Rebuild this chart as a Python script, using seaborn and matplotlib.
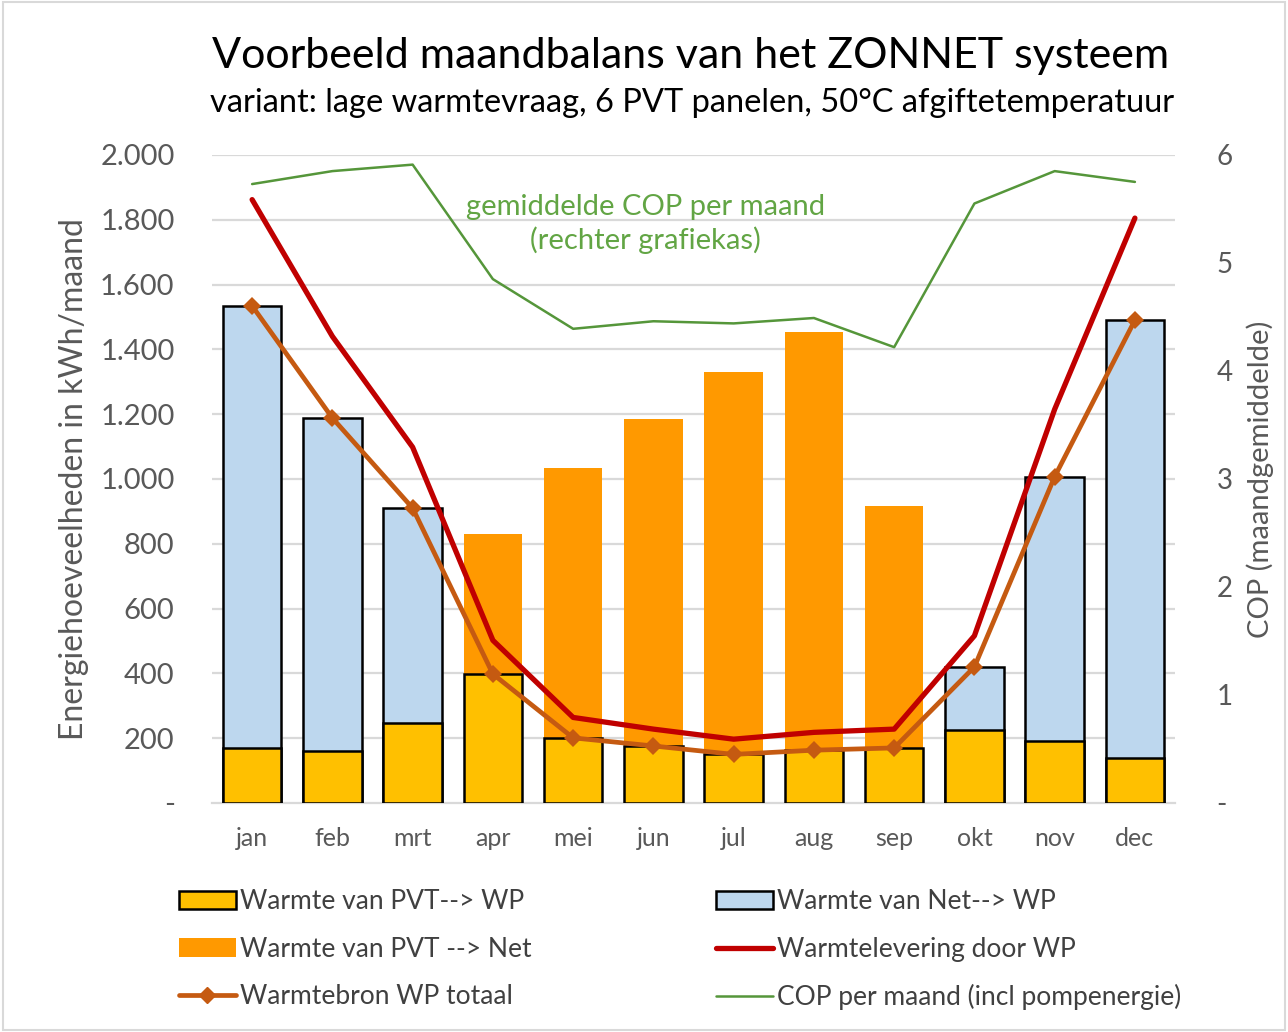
import numpy as np
import matplotlib
matplotlib.use("Agg")
import matplotlib.pyplot as plt
import seaborn as sns
from matplotlib.patches import Patch, Rectangle
from matplotlib.lines import Line2D
from matplotlib.ticker import FuncFormatter

sns.set_style("white")
plt.rcParams['font.family'] = ['Lato', 'DejaVu Sans']

# ------------------------------
# Data
# ------------------------------
maanden = ['jan', 'feb', 'mrt', 'apr', 'mei', 'jun', 'jul', 'aug', 'sep', 'okt', 'nov', 'dec']

# kWh/maand
pvt_naar_wp = [170, 162, 248, 398, 201, 176, 150, 163, 170, 224, 190, 140]
net_naar_wp = [1364, 1026, 662, 0, 0, 0, 0, 0, 0, 196, 817, 1350]
pvt_naar_net = [0, 0, 0, 431, 834, 1010, 1180, 1290, 748, 0, 0, 0]
warmtelevering_wp = [1862, 1440, 1098, 502, 264, 228, 197, 218, 228, 516, 1215, 1805]

# COP (rechter as)
cop = [5.73, 5.85, 5.91, 4.85, 4.39, 4.46, 4.44, 4.49, 4.22, 5.55, 5.85, 5.75]

# Kleuren
geel = '#FFC000'
blauw = '#BDD7EE'
oranje = '#FF9900'
rood = '#C00000'
bruin = '#C55A11'
groen = '#55963A'
grijs = '#595959'

# Cumulatieve hoogtes voor de gestapelde staven
pvt = np.array(pvt_naar_wp)
hoog_blauw = pvt + np.array(net_naar_wp)
hoog_oranje = pvt + np.array(pvt_naar_net)
warmtebron_totaal = hoog_blauw
x = np.arange(len(maanden))

# ------------------------------
# Figuur
# ------------------------------
fig = plt.figure(figsize=(12.88, 10.32), dpi=100)
ax = fig.add_axes([0.1646, 0.2219, 0.7477, 0.628])

for y in np.arange(200, 2001, 200):
    ax.axhline(y, color='#D9D9D9', lw=1.6, zorder=0)

sns.barplot(x=maanden, y=hoog_oranje, color=oranje, width=0.73, saturation=1,
            edgecolor='none', linewidth=0, ax=ax, zorder=2)
sns.barplot(x=maanden, y=hoog_blauw, color=blauw, width=0.73, saturation=1,
            edgecolor='black', linewidth=1.8, ax=ax, zorder=3)
sns.barplot(x=maanden, y=pvt_naar_wp, color=geel, width=0.73, saturation=1,
            edgecolor='black', linewidth=1.8, ax=ax, zorder=4)

# maanden zonder blauwe staaf: die staaf verbergen
for i, p in enumerate(ax.patches[12:24]):
    if net_naar_wp[i] == 0:
        p.set_visible(False)

sns.lineplot(x=x, y=warmtelevering_wp, color=rood, lw=3.8, sort=False, ax=ax, zorder=5)
sns.lineplot(x=x, y=warmtebron_totaal, color=bruin, lw=3.4, marker='D', markersize=9,
             markeredgewidth=0, sort=False, ax=ax, zorder=6)

ax.set_xlim(-0.5, 11.5)
ax.set_ylim(0, 2000)
ax.set_yticks(np.arange(0, 2001, 200))
ax.yaxis.set_major_formatter(FuncFormatter(
    lambda v, p: '-' if v == 0 else f'{int(v):,}'.replace(',', '.')))
ax.tick_params(axis='y', length=0, labelsize=21, colors=grijs, pad=27)
ax.tick_params(axis='x', length=0, labelsize=18, colors=grijs, pad=17)
ax.set_xlabel('')
ax.set_ylabel('Energiehoeveelheden in kWh/maand', fontsize=23, color=grijs, labelpad=8)
for s in ['top', 'right', 'left']:
    ax.spines[s].set_visible(False)
ax.spines['bottom'].set_color('#D9D9D9')
ax.spines['bottom'].set_linewidth(1.6)

# COP op de rechter as
ax2 = ax.twinx()
sns.lineplot(x=x, y=cop, color=groen, lw=1.8, sort=False, ax=ax2, zorder=7)
ax2.set_ylim(0, 6)
ax2.set_yticks(range(0, 7))
ax2.yaxis.set_major_formatter(FuncFormatter(lambda v, p: '-' if v == 0 else f'{int(v)}'))
ax2.tick_params(axis='y', length=0, labelsize=20, colors=grijs, pad=30)
ax2.set_ylabel('COP (maandgemiddelde)', fontsize=21, color=grijs, labelpad=10)
for s in ax2.spines.values():
    s.set_visible(False)

ax.text(4.9, 1787, 'gemiddelde COP per maand\n(rechter grafiekas)', ha='center', va='center',
        fontsize=21, color='#62A544', linespacing=1.3, zorder=8)

# Titels
fig.text(0.536, 0.946, 'Voorbeeld maandbalans van het ZONNET systeem', ha='center', va='center',
         fontsize=31, color='black')
fig.text(0.537, 0.900, 'variant: lage warmtevraag, 6 PVT panelen, 50\u00b0C afgiftetemperatuur',
         ha='center', va='center', fontsize=23.5, color='black')

# Legenda
handles = [
    Patch(facecolor=geel, edgecolor='black', linewidth=1.8, label='Warmte van PVT--> WP'),
    Patch(facecolor=oranje, edgecolor='none', label='Warmte van PVT --> Net'),
    Line2D([], [], color=bruin, lw=3.4, marker='D', markersize=8, label='Warmtebron WP totaal'),
    Patch(facecolor=blauw, edgecolor='black', linewidth=1.8, label='Warmte van Net--> WP'),
    Line2D([], [], color=rood, lw=3.8, label='Warmtelevering door WP'),
    Line2D([], [], color=groen, lw=1.8, label='COP per maand (incl pompenergie)'),
]
leg = fig.legend(handles=handles, loc='center', bbox_to_anchor=(0.528, 0.0795), ncol=2,
                 frameon=False, fontsize=19, handlelength=2.15, handleheight=0.7,
                 handletextpad=0.15, labelspacing=0.85, columnspacing=7.0)
for t in leg.get_texts():
    t.set_color('#404040')

# rand rond de figuur
fig.patches.append(Rectangle((0.002, 0.002), 0.996, 0.996, transform=fig.transFigure,
                             fill=False, edgecolor='#D9D9D9', lw=1.5))

fig.savefig('out.png', dpi=100)
